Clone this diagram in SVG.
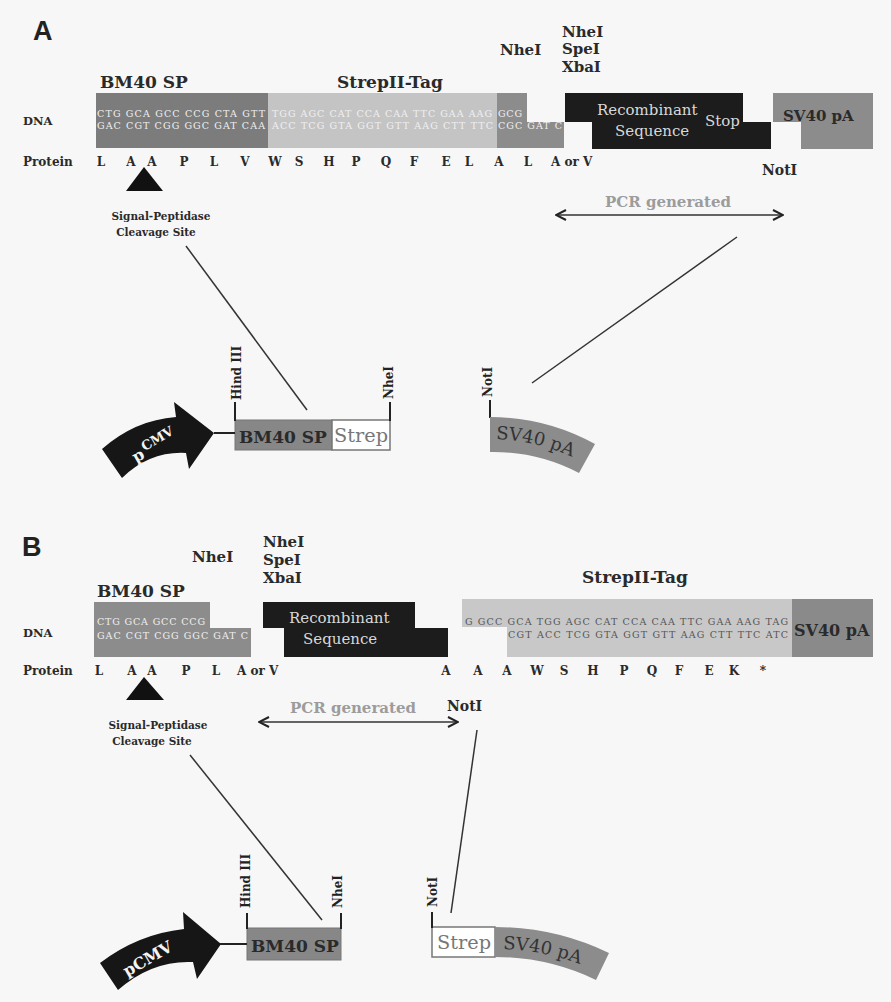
<svg xmlns="http://www.w3.org/2000/svg" width="891" height="1002" viewBox="0 0 891 1002">
<style>
.lbl{font-family:"DejaVu Serif","Liberation Serif",serif;font-weight:bold;fill:#2a2a2a}
.panel{font-family:"Liberation Sans","DejaVu Sans",sans-serif;font-weight:bold;font-size:27px;fill:#222}
.site{font-size:15px}
.prot{font-family:"DejaVu Serif","Liberation Serif",serif;font-weight:bold;font-size:12px;fill:#2a2a2a;text-anchor:middle}
.prot.st{text-anchor:start}
.seq{font-family:"DejaVu Serif","Liberation Serif",serif;font-size:9.5px;fill:#f0f0f0}
.seqd{fill:#555}
.rec{font-family:"DejaVu Serif","Liberation Serif",serif;font-size:15px;fill:#d8d8d8}
.pcr{font-family:"DejaVu Serif","Liberation Serif",serif;font-weight:bold;font-size:15px;fill:#9c9c9c;text-anchor:middle}
.cut{font-family:"DejaVu Serif","Liberation Serif",serif;font-weight:bold;font-size:12px;fill:#222}
.tick{stroke:#222;stroke-width:2;fill:none}
.conn{stroke:#333;stroke-width:1.5;fill:none}
.box{font-family:"DejaVu Serif","Liberation Serif",serif;font-size:18px}
.small{font-family:"DejaVu Serif","Liberation Serif",serif;font-weight:bold;font-size:10.5px;fill:#2a2a2a;text-anchor:middle}
.wt{fill:#f4f4f4}
</style>
<defs>
<marker id="chev" viewBox="0 0 12 12" refX="11" refY="6" markerWidth="12" markerHeight="12" markerUnits="userSpaceOnUse" orient="auto-start-reverse">
<path d="M1,1 L11,6 L1,11" fill="none" stroke="#222" stroke-width="2"/>
</marker>
<path id="arcA" d="M490,439 A196,196 0 0 1 602,474"/>
<path id="arcB" d="M495,949 A241,241 0 0 1 616,981"/>
</defs>
<rect width="891" height="1002" fill="#f7f7f7"/>

<!-- ================= PANEL A ================= -->
<text class="panel" x="33" y="40">A</text>
<text class="lbl" x="100" y="88" font-size="17">BM40 SP</text>
<text class="lbl" x="337" y="88" font-size="17">StrepII-Tag</text>
<text class="lbl site" x="500" y="55">NheI</text>
<text class="lbl site" x="562" y="37">NheI</text>
<text class="lbl site" x="562" y="54">SpeI</text>
<text class="lbl site" x="562" y="72">XbaI</text>
<text class="lbl" x="23" y="125" font-size="11.5">DNA</text>
<text class="lbl" x="23" y="166" font-size="12">Protein</text>

<g id="A-bm40-dna">
<rect x="96" y="93" width="172" height="55" fill="#7c7c7c"/>
<text class="seq" x="97" y="117" textLength="168" lengthAdjust="spacing">CTG GCA GCC CCG CTA GTT</text>
<text class="seq" x="97" y="129" textLength="168" lengthAdjust="spacing">GAC CGT CGG GGC GAT CAA</text>
</g>
<g id="A-strep-dna">
<rect x="268" y="93" width="229" height="55" fill="#c4c4c4"/>
<text class="seq" x="272" y="117" textLength="220" lengthAdjust="spacing">TGG AGC CAT CCA CAA TTC GAA AAG</text>
<text class="seq" x="272" y="129" textLength="221" lengthAdjust="spacing">ACC TCG GTA GGT GTT AAG CTT TTC</text>
</g>
<g id="A-nhe-dna">
<path d="M497,93 H527 V122 H564 V148 H497 Z" fill="#8c8c8c"/>
<text class="seq" x="498" y="117" textLength="24" lengthAdjust="spacing">GCG</text>
<text class="seq" x="498" y="129" textLength="64" lengthAdjust="spacing">CGC GAT C</text>
</g>
<g id="A-recomb-dna">
<path d="M565,93 H743 V122 H771 V149 H592 V122 H565 Z" fill="#1c1c1c"/>
<text class="rec" x="597" y="115">Recombinant</text>
<text class="rec" x="615" y="136">Sequence</text>
<text class="rec" x="705" y="126">Stop</text>
</g>
<g id="A-sv40-dna">
<path d="M773,93 H873 V149 H801 V122 H773 Z" fill="#8c8c8c"/>
<text class="lbl" x="783" y="121" font-size="15">SV40 pA</text>
</g>

<g id="A-protein">
<text class="prot" x="101" y="166">L</text>
<text class="prot" x="131" y="166">A</text>
<text class="prot" x="152" y="166">A</text>
<text class="prot" x="184" y="166">P</text>
<text class="prot" x="214" y="166">L</text>
<text class="prot" x="245" y="166">V</text>
<text class="prot" x="275" y="166">W</text>
<text class="prot" x="299" y="166">S</text>
<text class="prot" x="329" y="166">H</text>
<text class="prot" x="356" y="166">P</text>
<text class="prot" x="386" y="166">Q</text>
<text class="prot" x="414" y="166">F</text>
<text class="prot" x="446" y="166">E</text>
<text class="prot" x="469" y="166">L</text>
<text class="prot" x="499" y="166">A</text>
<text class="prot" x="528" y="166">L</text>
<text class="prot st" x="551" y="166">A or V</text>
</g>
<text class="lbl" x="762" y="175" font-size="14">NotI</text>

<g id="A-cleavage">
<path d="M144,167 L163,191 L126,191 Z" fill="#111"/>
<text class="small" x="161" y="220">Signal-Peptidase</text>
<text class="small" x="156" y="236">Cleavage Site</text>
</g>

<g id="A-pcr">
<text class="pcr" x="668" y="207">PCR generated</text>
</g>

<g id="A-pcmv">
<path d="M102,449 Q135,420 176,417 L174,402 L214,433 L189,469 L186,453 Q150,451 122,478 Z" fill="#161616"/>
<text class="lbl wt" x="136" y="463" font-size="16" transform="rotate(-30 136 463)">p<tspan dx="2" dy="-6" font-size="13">CMV</tspan></text>
</g>
<g id="A-bm40-box">
<rect x="235" y="420" width="97" height="30" fill="#878787" stroke="#777" stroke-width="1"/>
<text class="lbl" x="239" y="443" font-size="17">BM40 SP</text>
</g>
<g id="A-strep-box">
<rect x="332" y="420" width="58" height="30" fill="#fff" stroke="#777" stroke-width="1.5"/>
<text class="box" x="334" y="442" fill="#777" textLength="54" lengthAdjust="spacingAndGlyphs">Strep</text>
</g>
<g id="A-sites">
<path class="tick" d="M235,402 V421"/>
<text class="cut" transform="translate(241,400) rotate(-90)">Hind III</text>
<path class="tick" d="M390,402 V421"/>
<text class="cut" transform="translate(393,399) rotate(-90)">NheI</text>
<path class="tick" d="M490,400 V418"/>
<text class="cut" transform="translate(492,397) rotate(-90)">NotI</text>
</g>
<g id="A-sv40-box">
<path d="M490,417 A218,218 0 0 1 595,444 L579,473 A185,185 0 0 0 490,452 Z" fill="#8c8c8c"/>
<text class="box" fill="#333"><textPath href="#arcA" startOffset="6">SV40 pA</textPath></text>
</g>

<!-- ================= PANEL B ================= -->
<text class="panel" x="22" y="556">B</text>
<text class="lbl site" x="192" y="562">NheI</text>
<text class="lbl site" x="263" y="547">NheI</text>
<text class="lbl site" x="263" y="565">SpeI</text>
<text class="lbl site" x="263" y="583">XbaI</text>
<text class="lbl" x="97" y="597" font-size="17">BM40 SP</text>
<text class="lbl" x="582" y="583" font-size="17">StrepII-Tag</text>
<text class="lbl" x="23" y="637" font-size="11.5">DNA</text>
<text class="lbl" x="23" y="675" font-size="12">Protein</text>

<g id="B-bm40-dna">
<path d="M94,602 H210 V628 H251 V657 H94 Z" fill="#8c8c8c"/>
<text class="seq" x="97" y="625" textLength="108" lengthAdjust="spacing">CTG GCA GCC CCG</text>
<text class="seq" x="97" y="639" textLength="151" lengthAdjust="spacing">GAC CGT CGG GGC GAT C</text>
</g>
<g id="B-recomb-dna">
<path d="M263,602 H415 V628 H448 V657 H284 V628 H263 Z" fill="#1c1c1c"/>
<text class="rec" x="289" y="623">Recombinant</text>
<text class="rec" x="303" y="644">Sequence</text>
</g>
<g id="B-strep-dna">
<path d="M462,599 H792 V657 H507 V627 H462 Z" fill="#c8c8c8"/>
<text class="seq seqd" x="465" y="625" textLength="323" lengthAdjust="spacing">G GCC GCA TGG AGC CAT CCA CAA TTC GAA AAG TAG</text>
<text class="seq seqd" x="508" y="638" textLength="280" lengthAdjust="spacing">CGT ACC TCG GTA GGT GTT AAG CTT TTC ATC</text>
</g>
<g id="B-sv40-dna">
<rect x="792" y="599" width="81" height="58" fill="#8a8a8a"/>
<text class="lbl" x="794" y="636" font-size="16">SV40 pA</text>
</g>

<g id="B-protein">
<text class="prot" x="99" y="675">L</text>
<text class="prot" x="132" y="675">A</text>
<text class="prot" x="152" y="675">A</text>
<text class="prot" x="186" y="675">P</text>
<text class="prot" x="216" y="675">L</text>
<text class="prot st" x="237" y="675">A or V</text>
<text class="prot" x="446" y="675">A</text>
<text class="prot" x="478" y="675">A</text>
<text class="prot" x="507" y="675">A</text>
<text class="prot" x="537" y="675">W</text>
<text class="prot" x="564" y="675">S</text>
<text class="prot" x="593" y="675">H</text>
<text class="prot" x="624" y="675">P</text>
<text class="prot" x="652" y="675">Q</text>
<text class="prot" x="679" y="675">F</text>
<text class="prot" x="709" y="675">E</text>
<text class="prot" x="734" y="675">K</text>
<text class="prot" x="763" y="675">*</text>
</g>

<g id="B-cleavage">
<path d="M144,677 L164,700 L126,700 Z" fill="#111"/>
<text class="small" x="158" y="729">Signal-Peptidase</text>
<text class="small" x="152" y="745">Cleavage Site</text>
</g>
<g id="B-pcr">
<text class="pcr" x="353" y="713">PCR generated</text>
</g>
<text class="lbl" x="447" y="711" font-size="14">NotI</text>

<g id="B-pcmv">
<path d="M100,963 Q138,934 184,929 L183,912 L221,944 L197,979 L193,962 Q152,960 118,990 Z" fill="#161616"/>
<text class="lbl wt" x="127" y="977" font-size="16" transform="rotate(-30 127 977)">pCMV</text>
</g>
<g id="B-bm40-box">
<rect x="247" y="928" width="94" height="32" fill="#878787" stroke="#777" stroke-width="1"/>
<text class="lbl" x="251" y="952" font-size="17">BM40 SP</text>
</g>
<g id="B-strep-box">
<rect x="432" y="927" width="63" height="30" fill="#fff" stroke="#777" stroke-width="1.5"/>
<text class="box" x="437" y="949" fill="#777" textLength="54" lengthAdjust="spacingAndGlyphs">Strep</text>
</g>
<g id="B-sv40-box">
<path d="M495,927 A263,263 0 0 1 609,953 L596,980 A233,233 0 0 0 495,957 Z" fill="#8c8c8c"/>
<text class="box" fill="#333"><textPath href="#arcB" startOffset="8">SV40 pA</textPath></text>
</g>
<g id="B-sites">
<path class="tick" d="M247,913 V929"/>
<text class="cut" transform="translate(250,908) rotate(-90)">Hind III</text>
<path class="tick" d="M341,913 V929"/>
<text class="cut" transform="translate(342,908) rotate(-90)">NheI</text>
<path class="tick" d="M432,912 V928"/>
<text class="cut" transform="translate(437,907) rotate(-90)">NotI</text>
</g>

<!-- ================= CONNECTORS ================= -->
<g id="connectors">
<path class="conn" d="M556,215 H783" marker-start="url(#chev)" marker-end="url(#chev)"/>
<path class="conn" d="M186,246 L307,410"/>
<path class="conn" d="M737,237 L532,383"/>
<path class="tick" d="M214,433 H235"/>
<path class="conn" d="M259,722 H458" marker-start="url(#chev)" marker-end="url(#chev)"/>
<path class="conn" d="M190,755 L322,920"/>
<path class="conn" d="M477,730 L451,913"/>
<path class="tick" d="M220,944 H247"/>
</g>
</svg>
